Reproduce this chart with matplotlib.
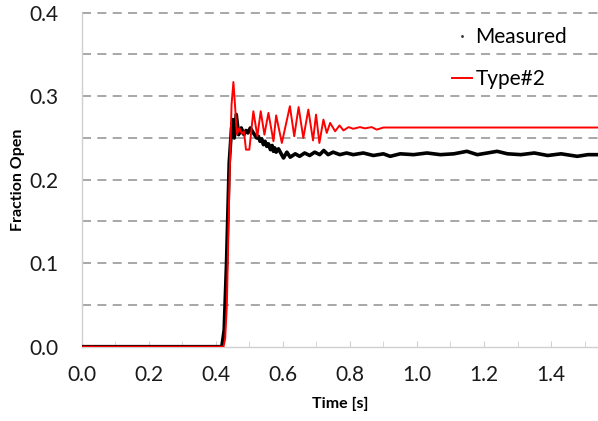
import matplotlib
matplotlib.use("Agg")
import matplotlib.pyplot as plt
from matplotlib.lines import Line2D
import numpy as np

plt.rcParams['font.family'] = ['Lato', 'DejaVu Sans']

# time [s] / fraction open
red_t = [0.0, 0.423, 0.428, 0.433, 0.441, 0.447, 0.4525, 0.458, 0.463, 0.470,
         0.478, 0.484, 0.490, 0.500, 0.512, 0.524, 0.534, 0.545, 0.557, 0.572,
         0.580, 0.597, 0.621, 0.634, 0.647, 0.661, 0.676, 0.690, 0.699, 0.709,
         0.721, 0.731, 0.741, 0.756, 0.769, 0.781, 0.796, 0.81, 0.83, 0.845,
         0.865, 0.88, 0.90, 1.54]
red_y = [0.0, 0.0, 0.01, 0.05, 0.20, 0.29, 0.317, 0.285, 0.254, 0.262,
         0.255, 0.258, 0.236, 0.236, 0.282, 0.252, 0.282, 0.254, 0.280, 0.246,
         0.277, 0.244, 0.288, 0.252, 0.287, 0.250, 0.284, 0.247, 0.278, 0.244,
         0.272, 0.256, 0.268, 0.258, 0.265, 0.259, 0.263, 0.261, 0.263, 0.2615,
         0.263, 0.260, 0.2625, 0.2625]

blk_t = [0.0, 0.418, 0.425, 0.432, 0.440, 0.447, 0.451, 0.455, 0.461, 0.468,
         0.476, 0.484, 0.490, 0.496, 0.503, 0.509, 0.517, 0.522, 0.527, 0.532,
         0.537, 0.542, 0.547, 0.552, 0.557, 0.563, 0.568, 0.572, 0.576, 0.580,
         0.587, 0.595, 0.602, 0.612, 0.622, 0.637, 0.650, 0.665, 0.680, 0.695,
         0.710, 0.722, 0.735, 0.750, 0.770, 0.790, 0.810, 0.840, 0.870, 0.900,
         0.920, 0.950, 0.990, 1.030, 1.070, 1.110, 1.149, 1.180, 1.210, 1.239,
         1.270, 1.310, 1.350, 1.390, 1.430, 1.478, 1.510, 1.54]
blk_y = [0.0, 0.0, 0.02, 0.10, 0.22, 0.262, 0.272, 0.250, 0.278, 0.254,
         0.262, 0.254, 0.259, 0.256, 0.262, 0.258, 0.253, 0.250, 0.252, 0.246,
         0.249, 0.242, 0.246, 0.240, 0.243, 0.236, 0.241, 0.234, 0.238, 0.233,
         0.237, 0.231, 0.226, 0.233, 0.227, 0.231, 0.228, 0.232, 0.229, 0.233,
         0.230, 0.235, 0.230, 0.233, 0.230, 0.232, 0.230, 0.232, 0.229, 0.231,
         0.228, 0.231, 0.230, 0.232, 0.230, 0.231, 0.234, 0.230, 0.232, 0.234,
         0.231, 0.230, 0.232, 0.229, 0.231, 0.228, 0.230, 0.230]

fig = plt.figure(figsize=(5.98, 4.21), dpi=100)
ax = fig.add_axes([0.1366, 0.1765, 0.8634, 0.7933])

ax.plot(blk_t, blk_y, color='black', lw=2.6, zorder=3)
ax.plot(red_t, red_y, color='#ff0000', lw=1.4, zorder=4)

ax.set_xlim(0, 1.54)
ax.set_ylim(0, 0.4)

# dashed horizontal grid every 0.05
for g in np.arange(0.05, 0.401, 0.05):
    ax.axhline(g, color='#a0a0a0', lw=1.3, ls=(0, (5, 3.5)), zorder=1, clip_on=False)

for s in ['top', 'right']:
    ax.spines[s].set_visible(False)
for s in ['left', 'bottom']:
    ax.spines[s].set_color('#d0d0d0')
    ax.spines[s].set_linewidth(1.0)

ax.set_xticks(np.arange(0, 1.41, 0.2))
ax.set_xticks(np.arange(0.1, 1.51, 0.2), minor=True)
ax.set_xticklabels(['%.1f' % v for v in np.arange(0, 1.41, 0.2)])
ax.set_yticks(np.arange(0, 0.41, 0.1))
ax.set_yticklabels(['%.1f' % v for v in np.arange(0, 0.41, 0.1)])
ax.tick_params(axis='x', which='both', direction='in', length=4, color='#d0d0d0',
               labelsize=15, pad=13, labelcolor='#1a1a1a')
ax.tick_params(axis='y', length=0, labelsize=15, pad=17, labelcolor='#1a1a1a')

ax.set_xlabel('Time [s]', fontsize=11.5, fontweight='bold', labelpad=9)
ax.set_ylabel('Fraction Open', fontsize=11.5, fontweight='bold', labelpad=3)

handles = [Line2D([], [], color='#333333', marker='.', markersize=2, ls='none'),
           Line2D([], [], color='#ff0000', lw=1.4)]
ax.legend(handles, ['Measured', 'Type#2'], loc='upper right',
          bbox_to_anchor=(0.977, 1.012), frameon=False, fontsize=15,
          handlelength=1.0, handletextpad=0.15, labelspacing=1.05)

fig.savefig('out.png', dpi=100)
